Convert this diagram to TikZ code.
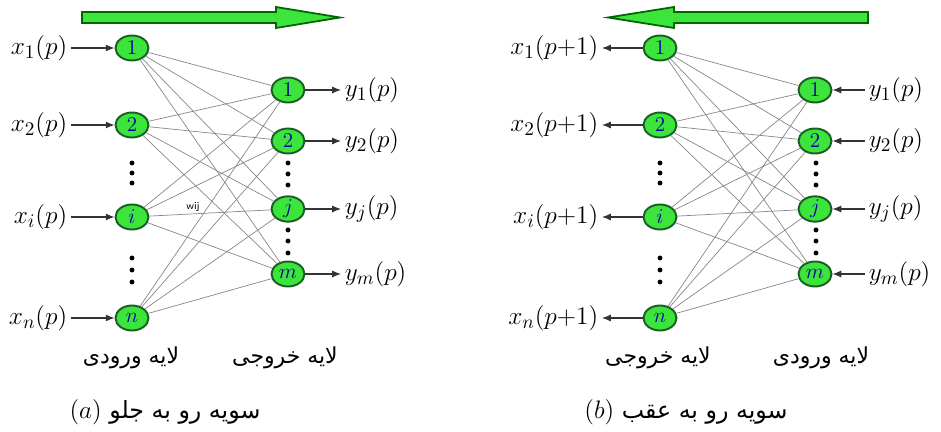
\documentclass[tikz,border=0pt]{standalone}
\usepackage{fontspec}
\usepackage{amsmath}
\usepackage{tikz}
\usetikzlibrary{arrows.meta, positioning, shapes}
\usepackage{xcolor}
\newfontfamily\farsifont[Script=Arabic]{DejaVu Sans}
\TeXXeTstate=1
\definecolor{neurongreen}{RGB}{60,228,60}
\definecolor{rimgreen}{RGB}{25,95,35}
\definecolor{weightgray}{RGB}{135,135,135}

\begin{document}
\begin{tikzpicture}[
  x=0.02cm, y=-0.02cm,
  every node/.style={font=\fontsize{15}{17}\selectfont},
  neuron/.style ={ellipse, draw=rimgreen, line width=1.1pt, fill=neurongreen, minimum width=0.66cm, minimum height=0.5cm, inner sep=0pt, font=\fontsize{12}{12}\selectfont, text=blue!60!black},
  sig/.style    ={inner sep=2pt},
  link/.style   ={draw=weightgray, line width=0.4pt},
  feed/.style   ={-{Latex[length=5pt,width=4pt]}, semithick, black!80},
  layer/.style  ={font=\farsifont\fontsize{12.5}{14}\selectfont},
  caption/.style={font=\farsifont\fontsize{13.5}{15}\selectfont},
  bigarrow/.style={fill=neurongreen, draw=black!60!green, line width=1pt}
]
\useasboundingbox (0,0) rectangle (941,432);

%% Direction arrows (forward: to the right, backward: to the left)
\draw[bigarrow] (82,12) -- (276,12) -- (276,7) -- (340,17.5) -- (276,28) -- (276,23) -- (82,23) -- cycle;
\draw[bigarrow] (868,12) -- (674,12) -- (674,7) -- (608,17.5) -- (674,28) -- (674,23) -- (868,23) -- cycle;

%% Neurons: f = forward panel (a), b = backward panel (b)
\foreach \k/\yy in {1/48, 2/125, i/217, n/318}{
  \node[neuron] (fi\k) at (132,\yy) {$\k$};
  \node[neuron] (bi\k) at (660,\yy) {$\k$};
}
\foreach \k/\yy in {1/90, 2/141, j/209, m/274}{
  \node[neuron] (fo\k) at (288,\yy) {$\k$};
  \node[neuron] (bo\k) at (815,\yy) {$\k$};
}

%% Full weight layer between the two columns
\foreach \a in {1,2,i,n}{
  \foreach \b in {1,2,j,m}{
    \draw[link] (fi\a) -- (fo\b);
    \draw[link] (bi\a) -- (bo\b);
  }
}
\node[font=\sffamily\fontsize{6}{6}\selectfont, inner sep=0pt] (wij) at (193,207) {wij};

%% Signals of the left column
\foreach \k in {1,2,i,n}{
  \node[sig, left=0.87cm of fi\k] (fx\k) {$x_\k(p)$};
  \draw[feed] (fx\k) -- (fi\k);
  \node[sig, left=0.81cm of bi\k] (bx\k) {$x_\k(p{+}1)$};
  \draw[feed] (bi\k) -- (bx\k);
}

%% Signals of the right column
\foreach \k in {1,2,j,m}{
  \node[sig, right=0.71cm of fo\k] (fy\k) {$y_\k(p)$};
  \draw[feed] (fo\k) -- (fy\k);
  \node[sig, right=0.65cm of bo\k] (by\k) {$y_\k(p)$};
  \draw[feed] (by\k) -- (bo\k);
}

%% Dots between the neurons
\foreach \xx/\yy in {132/163, 132/173, 132/183, 132/258, 132/270, 132/282,
                     288/163, 288/174, 288/185, 288/230, 288/241, 288/253}{
  \fill (\xx,\yy) circle[radius=1.4pt];
  \fill (\xx+528,\yy) circle[radius=1.4pt];
}

%% Layer names and captions
\node[layer] (fin)  at (131,358) {\beginR لایه ورودی\endR};
\node[layer] (fout) at (285,358) {\beginR لایه خروجی\endR};
\node[layer] (bout) at (658,358) {\beginR لایه خروجی\endR};
\node[layer] (bin)  at (821,358) {\beginR لایه ورودی\endR};
\node[caption] (capa) at (165,412) {\beginR سویه رو به جلو \beginL$(a)$\endL\endR};
\node[caption] (capb) at (686,412) {\beginR سویه رو به عقب \beginL$(b)$\endL\endR};

\end{tikzpicture}
\end{document}
